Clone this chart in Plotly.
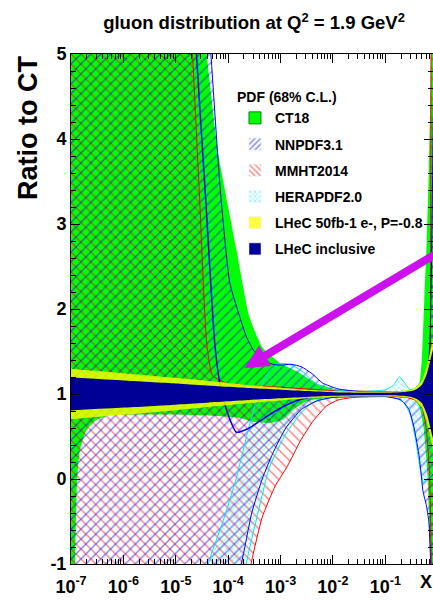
import plotly.graph_objects as go

# ---- band edges: log10(x) nodes and ratio-to-CT values ----
# CT18
ct18_hi_lx = [-7.05, -4.6, -4.41, -4.2, -4.0, -3.84, -3.6, -3.35, -3.0, -2.7, -2.3, -1.9, -1.5, -1.0,
              -0.6, -0.45, -0.35, -0.3, -0.257, -0.21, -0.17, -0.13, -0.1, -0.05]
ct18_hi = [9.0, 6.5, 5.0, 3.87, 3.2, 2.69, 1.92, 1.55, 1.36, 1.27, 1.12, 1.05, 1.03, 1.03,
           1.04, 1.07, 1.13, 1.45, 2.1, 2.8, 3.6, 4.8, 6.0, 9.0]
ct18_lo_lx = [-7.05, -6.95, -6.92, -6.886, -6.83, -6.7, -6.5, -6.25, -5.5, -4.5, -3.8, -3.5, -3.2,
              -2.95, -2.75, -2.55, -2.3, -2.0, -1.5, -1.0, -0.6, -0.45, -0.35, -0.27, -0.2, -0.15, -0.05]
ct18_lo = [-3.0, -1.5, -0.9, -0.05, 0.34, 0.58, 0.7, 0.75, 0.76, 0.75, 0.72, 0.67, 0.66,
           0.7, 0.82, 0.9, 0.94, 0.96, 0.97, 0.97, 0.96, 0.93, 0.85, 0.6, 0.1, -0.8, -3.0]

# NNPDF3.1
nn_hi_lx = [-7.05, -4.5, -4.33, -4.15, -3.97, -3.8, -3.65, -3.5, -3.34, -3.15, -3.0, -2.8, -2.6, -2.4,
            -2.2, -1.9, -1.5, -1.0, -0.6, -0.4, -0.3, -0.2, -0.15, -0.12, -0.05]
nn_hi = [9.0, 6.5, 5.0, 3.4, 2.31, 1.95, 1.67, 1.5, 1.4, 1.35, 1.34, 1.35, 1.32, 1.24,
         1.13, 1.06, 1.03, 1.02, 1.02, 1.03, 1.06, 1.2, 1.6, 2.5, 6.0]
nn_lo_lx = [-7.05, -4.0, -3.75, -3.55, -3.35, -3.15, -2.9, -2.6, -2.3, -2.0, -1.5, -1.0, -0.7,
            -0.55, -0.45, -0.35, -0.28, -0.22, -0.17, -0.14, -0.12, -0.05]
nn_lo = [-3.0, -1.5, -1.0, -0.4, 0.0, 0.3, 0.6, 0.82, 0.92, 0.96, 0.97, 0.97, 0.93,
         0.82, 0.6, 0.25, -0.15, -0.3, -0.5, -0.9, -1.5, -3.0]
nn_mid_lx = [-4.7, -4.606, -4.43, -4.257, -4.16, -4.03, -3.84, -3.6, -3.4, -3.1, -2.7, -2.3, -2.0, -1.0, -0.5]
nn_mid = [6.0, 5.0, 3.3, 1.6, 1.13, 0.81, 0.55, 0.6, 0.68, 0.8, 0.92, 0.98, 1.0, 1.0, 0.98]

# MMHT2014
mmht_hi_lx = [-7.05, -4.8, -4.68, -4.545, -4.41, -4.3, -4.0, -3.0, -2.5, -2.0, -1.0, -0.5, -0.3,
              -0.2, -0.15, -0.135, -0.125, -0.05]
mmht_hi = [9.0, 6.3, 5.0, 3.3, 1.6, 1.22, 1.12, 1.08, 1.06, 1.04, 1.03, 1.03, 1.05,
           1.12, 1.35, 2.5, 5.5, 9.0]
mmht_lo_lx = [-7.05, -3.8, -3.58, -3.35, -3.1, -2.87, -2.62, -2.38, -2.12, -1.9, -1.6, -1.0, -0.6,
              -0.4, -0.3, -0.22, -0.16, -0.12, -0.05]
mmht_lo = [-3.0, -2.0, -1.05, -0.45, -0.08, 0.15, 0.45, 0.68, 0.86, 0.93, 0.96, 0.97, 0.96,
           0.92, 0.85, 0.6, 0.1, -1.0, -3.0]

# HERAPDF2.0
hera_hi_lx = [-4.6, -4.38, -4.1, -3.85, -3.65, -3.5, -3.35, -3.2, -3.05, -2.9, -2.75, -2.55, -2.35,
              -2.1, -1.8, -1.4, -1.0, -0.85, -0.73, -0.62, -0.52, -0.42, -0.3, -0.2, -0.05]
hera_hi = [-2.0, -1.0, -0.5, 0.0, 0.5, 0.85, 1.12, 1.28, 1.35, 1.36, 1.33, 1.25, 1.13,
           1.06, 1.04, 1.03, 1.05, 1.1, 1.2, 1.12, 1.04, 1.0, 0.97, 0.95, 0.9]
hera_lo_lx = [-4.6, -3.8, -3.65, -3.45, -3.21, -2.89, -2.6, -2.39, -2.0, -1.5, -1.0, -0.8, -0.65,
              -0.52, -0.42, -0.33, -0.27, -0.2, -0.05]
hera_lo = [-3.0, -2.0, -0.99, -0.45, 0.14, 0.54, 0.78, 0.9, 0.96, 0.97, 0.97, 0.95, 0.9,
           0.75, 0.45, 0.1, -0.05, 0.0, 0.1]

# LHeC projections: half-widths around unity
lhec_lx = [-7.05, -6.0, -5.0, -4.0, -3.59, -3.0, -2.5, -2.0, -1.5, -1.0, -0.7, -0.5, -0.4, -0.3, -0.2, -0.1, -0.05]
lhec50_half = [0.3, 0.245, 0.19, 0.13, 0.105, 0.075, 0.05, 0.035, 0.03, 0.03, 0.035, 0.05, 0.09, 0.16, 0.35, 0.62, 0.8]
lhec_incl_half = [0.195, 0.16, 0.125, 0.085, 0.07, 0.05, 0.035, 0.022, 0.016, 0.014, 0.02, 0.035, 0.06, 0.11, 0.25, 0.5, 0.6]

# axis ticks
x_tick_exp = [-7, -6, -5, -4, -3, -2, -1]
y_tick_vals = [-1, 0, 1, 2, 3, 4, 5]

FONT = "Liberation Sans"


def to_x(lx):
    return [10 ** v for v in lx]


def polygon(lx_hi, hi, lx_lo, lo):
    return to_x(lx_hi) + to_x(lx_lo[::-1]), list(hi) + list(lo[::-1])


SPL = dict(shape="spline", smoothing=0.5)

fig = go.Figure()


def add_band(lx_hi, hi, lx_lo, lo, fillcolor, pattern=None):
    x, y = polygon(lx_hi, hi, lx_lo, lo)
    kw = dict(fillpattern=pattern) if pattern else {}
    fig.add_trace(go.Scatter(x=x, y=y, mode="lines", fill="toself", fillcolor=fillcolor,
                             line=dict(width=0, **SPL), showlegend=False, hoverinfo="skip", **kw))


def add_line(lx, vals, color, width=1.0):
    fig.add_trace(go.Scatter(x=to_x(lx), y=vals, mode="lines",
                             line=dict(color=color, width=width, **SPL),
                             showlegend=False, hoverinfo="skip"))


CLEAR = "rgba(0,0,0,0)"

# CT18 solid band
add_band(ct18_hi_lx, ct18_hi, ct18_lo_lx, ct18_lo, "#00ff00")
# hatched bands
add_band(mmht_hi_lx, mmht_hi, mmht_lo_lx, mmht_lo, CLEAR,
         dict(shape="\\", fgcolor="#ff0000", bgcolor=CLEAR, size=7, solidity=0.2))
add_band(nn_hi_lx, nn_hi, nn_lo_lx, nn_lo, CLEAR,
         dict(shape="/", fgcolor="#0000ff", bgcolor=CLEAR, size=7, solidity=0.2))
add_band(hera_hi_lx, hera_hi, hera_lo_lx, hera_lo, CLEAR,
         dict(shape="x", fgcolor="#00e5ff", bgcolor=CLEAR, size=4, solidity=0.3))

# band outlines and central value
add_line(mmht_hi_lx, mmht_hi, "#ff0000")
add_line(mmht_lo_lx, mmht_lo, "#ff0000")
add_line(hera_hi_lx, hera_hi, "#00e5ff")
add_line(hera_lo_lx, hera_lo, "#00e5ff")
add_line(nn_hi_lx, nn_hi, "#0000ff")
add_line(nn_lo_lx, nn_lo, "#0000ff")
add_line(nn_mid_lx, nn_mid, "#0000ff", 1.5)

# LHeC projections around unity
add_band(lhec_lx, [1 + h for h in lhec50_half], lhec_lx, [1 - h for h in lhec50_half],
         "rgba(255,255,0,0.8)")
add_band(lhec_lx, [1 + h for h in lhec_incl_half], lhec_lx, [1 - h for h in lhec_incl_half],
         "#000096")

# legend entries
legend_items = [
    ("CT18", dict(color="#00ff00", line=dict(color="#008800", width=1))),
    ("NNPDF3.1", dict(color="white", pattern=dict(shape="/", fgcolor="#0000ff", bgcolor="white", size=5, solidity=0.35))),
    ("MMHT2014", dict(color="white", pattern=dict(shape="\\", fgcolor="#ff0000", bgcolor="white", size=5, solidity=0.35))),
    ("HERAPDF2.0", dict(color="white", pattern=dict(shape="x", fgcolor="#00e5ff", bgcolor="white", size=4, solidity=0.4))),
    ("LHeC 50fb-1 e-, P=-0.8", dict(color="#ffff40")),
    ("LHeC inclusive", dict(color="#000096")),
]
for name, marker in legend_items:
    fig.add_trace(go.Bar(x=[None], y=[None], name=name, marker=marker, legendgroup=name))

bold = dict(family=FONT, color="black", weight="bold")

fig.update_layout(
    width=433, height=602,
    margin=dict(l=71, r=0, t=54, b=38, autoexpand=False),
    paper_bgcolor="white", plot_bgcolor="white",
    title=dict(text="gluon distribution at Q<sup>2</sup> = 1.9 GeV<sup>2</sup>",
               x=254 / 433, xanchor="center", y=1 - 23 / 602, yanchor="middle",
               font=dict(size=18.5, **bold)),
    legend=dict(x=0.453, y=0.941, xanchor="left", yanchor="top", bgcolor=CLEAR,
                font=dict(size=14, **bold), tracegroupgap=5, itemwidth=30,
                title=dict(text="PDF (68% C.L.)", font=dict(size=14, **bold))),
    xaxis=dict(type="log", range=[-7, -0.09], showgrid=False, zeroline=False,
               showline=True, linecolor="black", linewidth=1, mirror="allticks",
               ticks="inside", ticklen=9, tickcolor="black", ticklabelstandoff=6,
               tickvals=[10 ** e for e in x_tick_exp],
               ticktext=["10<sup>%d</sup>" % e for e in x_tick_exp],
               tickfont=dict(size=18, **bold),
               minor=dict(ticks="inside", ticklen=5, tickcolor="black",
                          tickvals=[k * 10 ** e for e in x_tick_exp for k in range(2, 10)])),
    yaxis=dict(range=[-1, 5], showgrid=False, zeroline=False,
               showline=True, linecolor="black", linewidth=1, mirror="allticks",
               ticks="inside", ticklen=9, tickcolor="black",
               tickvals=y_tick_vals, ticktext=[str(v) for v in y_tick_vals],
               tickfont=dict(size=18, **bold),
               minor=dict(ticks="inside", ticklen=5, tickcolor="black", tick0=-1, dtick=0.2)),
    showlegend=True,
)

fig.add_annotation(text="Ratio to CT", textangle=-90, xref="paper", yref="paper",
                   x=(28 - 71) / 362, y=(564 - 128) / 510, xanchor="center", yanchor="middle",
                   showarrow=False, font=dict(size=27, **bold))
fig.add_annotation(text="X", xref="paper", yref="paper", x=(426 - 71) / 362, y=(564 - 582) / 510,
                   xanchor="center", yanchor="middle", showarrow=False, font=dict(size=18, **bold))

# magenta arrow pointing at the LHeC band
fig.add_annotation(x=-3.686, y=1.306, ax=-0.03, ay=2.65, xref="x", yref="y", axref="x", ayref="y",
                   text="", showarrow=True, arrowhead=2, arrowsize=0.6, arrowwidth=8,
                   arrowcolor="#cc11ee", standoff=0)

fig.write_html("out.html")
